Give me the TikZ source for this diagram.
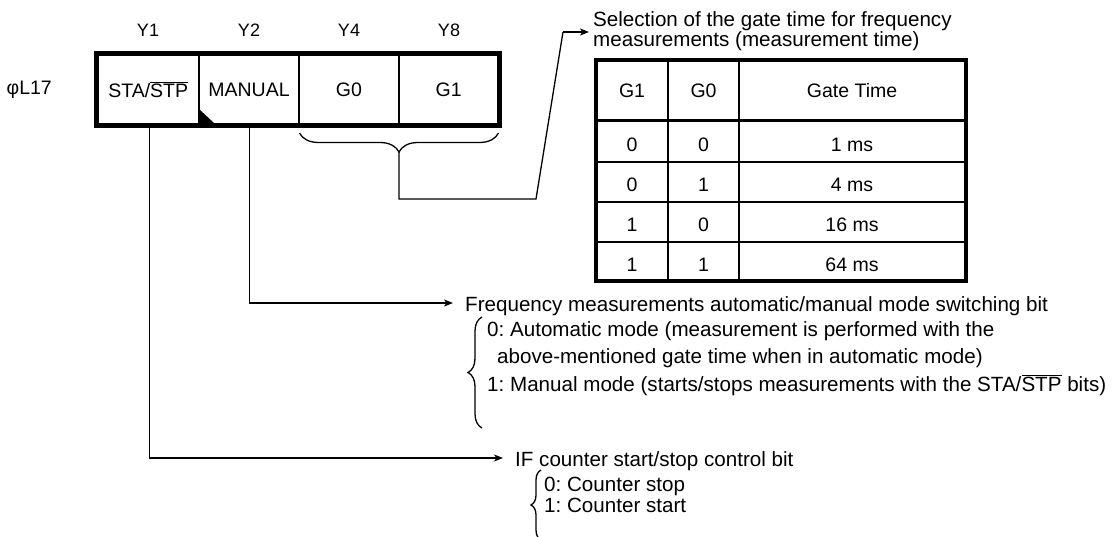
\documentclass[tikz,border=0pt]{standalone}
\usepackage{fontspec}
\setmainfont{Liberation Sans}
\usetikzlibrary{decorations.pathreplacing,arrows.meta}
\frenchspacing
\begin{document}
\begin{tikzpicture}[x=1pt,y=-1pt,
  desc/.style={inner sep=0pt,anchor=base west,font=\fontsize{20.6}{24}\selectfont},
  celltxt/.style={inner sep=0pt,font=\fontsize{19.5}{22}\selectfont},
  ylab/.style={inner sep=0pt,anchor=base,font=\fontsize{18}{21}\selectfont},
  regcell/.style={draw,line width=1.5pt,minimum height=70pt,inner sep=0pt,font=\fontsize{19.5}{22}\selectfont},
  conn/.style={line width=1.3pt},
  arr/.style={line width=1.3pt,-{Stealth[length=9pt,width=7pt,inset=2.5pt]}},
  bracedec/.style={line width=1.3pt,decorate,decoration={brace,mirror,amplitude=#1}}
]
\useasboundingbox (0,0) rectangle (1113,537);

% register cells
\node[regcell,minimum width=101.5pt] (c1) at (148.25,89.5) {STA/$\overline{\mbox{STP}}$};
\node[regcell,minimum width=100pt] (c2) at (249,89.5) {MANUAL};
\node[regcell,minimum width=100pt] (c3) at (349,89.5) {G0};
\node[regcell,minimum width=99.5pt] (c4) at (448.75,89.5) {G1};
\draw[line width=5pt] (c1.north west) rectangle (c4.south east);
\fill (200,110) -- (200,123) -- (214,123) -- cycle;

% labels
\node[ylab] (y1) at (148,37) {Y1};
\node[ylab] (y2) at (249,37) {Y2};
\node[ylab] (y4) at (349,37) {Y4};
\node[ylab] (y8) at (449,37) {Y8};
\node[celltxt,anchor=base east] (phi) at (52,95) {φL17};

% brace under G0/G1
\draw[bracedec=19pt] (299.5,133) -- (498.5,133);
\coordinate (gtip) at (399,152);
\coordinate (gb1) at (399,199);
\coordinate (gb2) at (536,199);
\coordinate (gb3) at (563,32);
\coordinate (garr) at (589,32);
\draw[conn] (gtip) -- (gb1) -- (gb2) -- (gb3);
\draw[arr] (gb3) -- (garr);

% selection text
\node[desc] (sel1) at (593,27) {Selection of the gate time for frequency};
\node[desc] (sel2) at (593,47) {measurements (measurement time)};

% table
\draw[line width=4pt] (596,60) rectangle (966,281);
\draw[line width=3pt] (596,121) -- (966,121);
\foreach \yy in {162,202,242} \draw[line width=2pt] (596,\yy) -- (966,\yy);
\draw[line width=2pt] (668,60) -- (668,281);
\draw[line width=2pt] (739,60) -- (739,281);
\node[celltxt,anchor=base] (h1) at (632,98) {G1};
\node[celltxt,anchor=base] (h2) at (703.5,98) {G0};
\node[celltxt,anchor=base] (h3) at (852,98) {Gate Time};
\node[celltxt,anchor=base] (r11) at (632,152) {0};
\node[celltxt,anchor=base] (r12) at (703.5,152) {0};
\node[celltxt,anchor=base] (r13) at (852,152) {1 ms};
\node[celltxt,anchor=base] (r21) at (632,192) {0};
\node[celltxt,anchor=base] (r22) at (703.5,192) {1};
\node[celltxt,anchor=base] (r23) at (852,192) {4 ms};
\node[celltxt,anchor=base] (r31) at (632,232) {1};
\node[celltxt,anchor=base] (r32) at (703.5,232) {0};
\node[celltxt,anchor=base] (r33) at (852,232) {16 ms};
\node[celltxt,anchor=base] (r41) at (632,272) {1};
\node[celltxt,anchor=base] (r42) at (703.5,272) {1};
\node[celltxt,anchor=base] (r43) at (852,272) {64 ms};

% MANUAL connector
\coordinate (marr) at (453,303);
\draw[arr] ([xshift=0.5pt]c2.south) |- (marr);
\node[desc] (freq) at (465,311) {Frequency measurements automatic/manual mode switching bit};
\draw[bracedec=14pt] (482,317) -- (482,428);
\node[desc] (f0) at (487,336) {0: Automatic mode (measurement is performed with the};
\node[desc] (f0b) at (497,363) {above-mentioned gate time when in automatic mode)};
\node[desc] (f1) at (487,391) {1: Manual mode (starts/stops measurements with the STA/$\overline{\mbox{STP}}$ bits)};

% STA connector
\coordinate (sarr) at (503,458);
\draw[arr] ([xshift=1pt]c1.south) |- (sarr);
\node[desc] (ift) at (515,466) {IF counter start/stop control bit};
\draw[bracedec=10pt] (541,470) -- (541,540);
\node[desc] (if0) at (544,491) {0: Counter stop};
\node[desc] (if1) at (544,512) {1: Counter start};
\end{tikzpicture}
\end{document}
